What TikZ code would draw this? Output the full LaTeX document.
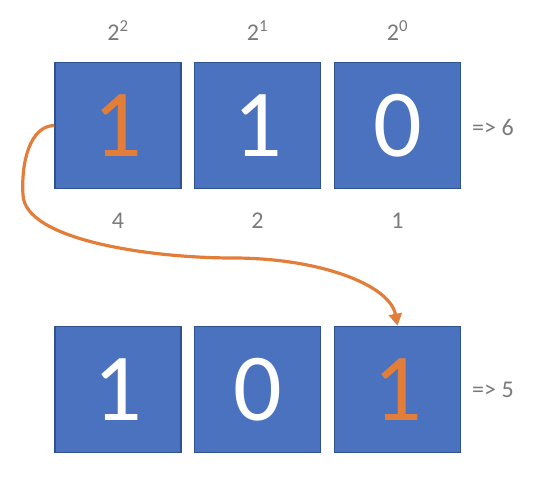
\documentclass[tikz,border=0pt]{standalone}
\usepackage{fontspec}
\setmainfont{Carlito}
\usetikzlibrary{arrows.meta}
\definecolor{boxblue}{HTML}{4A72BE}
\definecolor{boxedge}{HTML}{2F528F}
\definecolor{accent}{HTML}{E27E3A}
\definecolor{labelgray}{HTML}{7A7A7A}
\begin{document}
\begin{tikzpicture}[x=1pt,y=-1pt,
  bit/.style={draw=boxedge, line width=1.6pt, fill=boxblue, minimum width=126pt, minimum height=126pt, inner sep=0pt, text=white, font=\fontsize{96}{96}\selectfont},
  hot/.style={text=accent},
  lbl/.style={text=labelgray, font=\fontsize{24}{24}\selectfont, inner sep=0pt},
  move/.style={draw=accent, line width=3.2pt, -{Triangle[length=12pt,width=13pt]}}]
\useasboundingbox (0,0) rectangle (552,482);
% top row
\node[bit,hot] (t2) at (118,125.5) {1};
\node[bit] (t1) at (257.5,125.5) {1};
\node[bit] (t0) at (397.5,125.5) {0};
% bottom row
\node[bit] (b2) at (118,389.5) {1};
\node[bit] (b1) at (257.5,389.5) {0};
\node[bit,hot] (b0) at (397.5,389.5) {1};
% powers
\node[lbl] (p2) at (118,31) {2\textsuperscript{2}};
\node[lbl] (p1) at (257.5,31) {2\textsuperscript{1}};
\node[lbl] (p0) at (397.5,31) {2\textsuperscript{0}};
% values
\node[lbl] (v2) at (118,221) {4};
\node[lbl] (v1) at (257.5,221) {2};
\node[lbl] (v0) at (397.5,221) {1};
% results
\node[lbl, anchor=west] (r6) at (472,127) {=> 6};
\node[lbl, anchor=west] (r5) at (472,390) {=> 5};
% arrow
\coordinate (c1) at (23,195);
\coordinate (c2) at (233,258);
\draw[move] (t2.west) .. controls (30,126) and (21,162) .. (c1)
  .. controls (25,240) and (150,258) .. (c2)
  .. controls (320,258) and (390,285) .. (b0.north);
\end{tikzpicture}
\end{document}
